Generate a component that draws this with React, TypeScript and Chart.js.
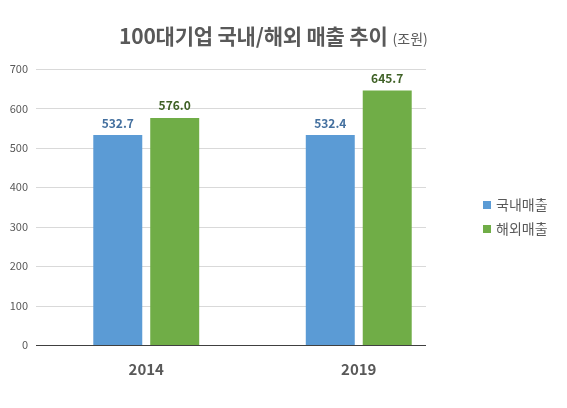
import React, { useEffect, useRef } from 'react';
import Chart from 'chart.js/auto';

const categories = ['2014', '2019'];
const seriesNames = ['국내매출', '해외매출'];
const domesticSales = [532.7, 532.4];
const overseasSales = [576.0, 645.7];
const seriesColors = ['#5b9bd5', '#70ad47'];
const labelColors = ['#44709f', '#3f6126'];

const FONT = '"Noto Sans CJK KR", "Noto Sans", sans-serif';
const GREY = '#595959';

// horizontal grid that stops short of the legend, like the original
const gridPlugin = {
  id: 'partialGrid',
  beforeDatasetsDraw(chart) {
    const { ctx, chartArea, scales } = chart;
    const y = scales.y;
    ctx.save();
    ctx.lineWidth = 1;
    y.ticks.forEach((t) => {
      if (t.value === 0) return;
      const py = Math.round(y.getPixelForValue(t.value)) + 0.5;
      ctx.strokeStyle = '#d9d9d9';
      ctx.beginPath();
      ctx.moveTo(chartArea.left - 4, py);
      ctx.lineTo(chartArea.right - 39, py);
      ctx.stroke();
    });
    ctx.restore();
  },
  afterDatasetsDraw(chart) {
    const { ctx, chartArea, scales } = chart;
    const py = Math.round(scales.y.getPixelForValue(0)) + 0.5;
    ctx.save();
    ctx.strokeStyle = '#404040';
    ctx.lineWidth = 1;
    ctx.beginPath();
    ctx.moveTo(chartArea.left - 4, py);
    ctx.lineTo(chartArea.right - 39, py);
    ctx.stroke();
    ctx.restore();
  }
};

const valueLabelPlugin = {
  id: 'valueLabels',
  afterDatasetsDraw(chart) {
    const { ctx } = chart;
    ctx.save();
    ctx.font = `bold 12px ${FONT}`;
    ctx.textAlign = 'center';
    ctx.textBaseline = 'bottom';
    chart.data.datasets.forEach((ds, i) => {
      const meta = chart.getDatasetMeta(i);
      ctx.fillStyle = labelColors[i];
      meta.data.forEach((bar, j) => {
        ctx.fillText(Number(ds.data[j]).toFixed(1), bar.x, bar.y - 6);
      });
    });
    ctx.restore();
  }
};

const sideLegendPlugin = {
  id: 'sideLegend',
  afterDraw(chart) {
    const { ctx, chartArea } = chart;
    const mid = (chartArea.top + chartArea.bottom) / 2;
    ctx.save();
    ctx.font = `14px ${FONT}`;
    ctx.textBaseline = 'middle';
    ctx.textAlign = 'left';
    chart.data.datasets.forEach((ds, i) => {
      const cy = mid - 2 + i * 24;
      const bx = chartArea.right + 18;
      ctx.fillStyle = ds.backgroundColor;
      ctx.fillRect(bx, cy - 4, 8, 8);
      ctx.fillStyle = GREY;
      ctx.fillText(ds.label, bx + 13, cy);
    });
    ctx.restore();
  }
};

const SalesChart = () => {
  const chartRef = useRef<HTMLCanvasElement>(null);

  useEffect(() => {
    if (!chartRef.current) return;
    const chart = new Chart(chartRef.current, {
      type: 'bar',
      data: {
        labels: categories,
        datasets: [
          {
            label: seriesNames[0],
            data: domesticSales,
            backgroundColor: seriesColors[0],
            categoryPercentage: 0.536,
            barPercentage: 0.86
          },
          {
            label: seriesNames[1],
            data: overseasSales,
            backgroundColor: seriesColors[1],
            categoryPercentage: 0.536,
            barPercentage: 0.86
          }
        ]
      },
      options: {
        responsive: false,
        animation: false,
        layout: { padding: { top: 69, right: 102, left: 0, bottom: 0 } },
        scales: {
          x: {
            grid: { display: false, drawTicks: false },
            border: { display: false },
            ticks: {
              color: GREY,
              font: { family: FONT, size: 15, weight: 'bold' },
              padding: 15
            },
            afterFit: (s) => {
              s.height = 63;
            }
          },
          y: {
            min: 0,
            max: 700,
            grid: { display: false, drawTicks: false },
            border: { display: false },
            ticks: {
              stepSize: 100,
              color: GREY,
              font: { family: FONT, size: 11 },
              padding: 12
            },
            afterFit: (s) => {
              s.width = 40;
            }
          }
        },
        plugins: {
          legend: { display: false },
          tooltip: { enabled: false },
          title: { display: false }
        }
      },
      plugins: [gridPlugin, valueLabelPlugin, sideLegendPlugin]
    });

    return () => {
      chart.destroy();
    };
  }, []);

  return <canvas ref={chartRef} width={567} height={408} style={{ display: 'block' }} />;
};

export default function App() {
  return (
    <div style={{ position: 'fixed', top: 0, left: 0, width: 567, height: 408, background: '#fff' }}>
      <SalesChart />
      <div
        style={{
          position: 'absolute',
          top: 20,
          left: 119,
          whiteSpace: 'nowrap',
          fontFamily: FONT,
          color: GREY,
          lineHeight: '30px'
        }}
      >
        <span style={{ fontSize: 21, fontWeight: 'bold', letterSpacing: -0.2 }}>
          100대기업 국내/해외 매출 추이
        </span>
        <span style={{ fontSize: 14, marginLeft: 5 }}>(조원)</span>
      </div>
    </div>
  );
}
